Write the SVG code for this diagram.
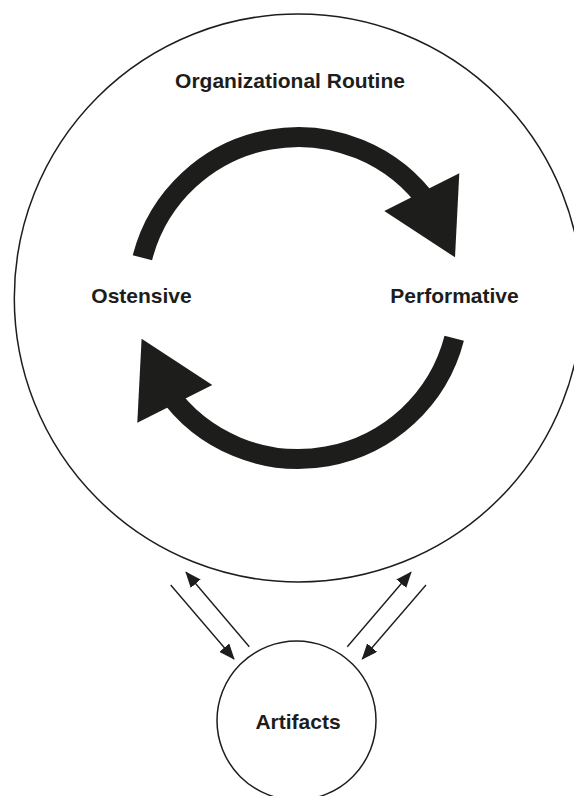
<svg xmlns="http://www.w3.org/2000/svg" xmlns:xlink="http://www.w3.org/1999/xlink" width="574" height="796" viewBox="0 0 574 796">
  <style>
    .ring { fill: none; stroke: #1d1d1b; stroke-width: 1.5; }
    .label { font-family: "Liberation Sans", Arial, Helvetica, sans-serif; font-weight: bold; font-size: 21px; fill: #1d1d1b; text-anchor: middle; }
    .link { fill: none; stroke: #1d1d1b; stroke-width: 1.4; marker-end: url(#head); }
    .band { fill: none; stroke: #1d1d1b; stroke-width: 20; stroke-linecap: butt; }
    .tip { fill: #1d1d1b; }
  </style>
  <defs>
    <marker id="head" markerUnits="userSpaceOnUse" markerWidth="16" markerHeight="13" viewBox="0 0 16 13" refX="15" refY="6.5" orient="auto">
      <path d="M0,0 L16,6.5 L0,13 z" fill="#1d1d1b"/>
    </marker>
    <!-- one half of the cycle: thick arc with a large triangular head -->
    <g id="half-cycle">
      <path class="band" d="M142.4,257.7 A161,161 0 0 1 430.2,205.7"/>
      <polygon class="tip" points="459.3,173.3 455,257.3 384.3,211"/>
    </g>
  </defs>

  <rect width="574" height="796" fill="#ffffff"/>

  <g id="routine">
    <circle class="ring" cx="298.3" cy="298" r="284"/>
    <text class="label" x="290" y="88">Organizational Routine</text>
  </g>

  <g id="ostensive">
    <text class="label" x="141.5" y="303">Ostensive</text>
  </g>

  <g id="performative">
    <text class="label" x="454.5" y="303">Performative</text>
  </g>

  <g id="artifacts">
    <circle class="ring" cx="296.5" cy="720.5" r="79.5"/>
    <text class="label" x="298" y="729">Artifacts</text>
  </g>

  <g id="connectors">
    <use xlink:href="#half-cycle"/>
    <use xlink:href="#half-cycle" transform="rotate(180 298.3 298)"/>
    <line class="link" x1="170.7" y1="585" x2="234" y2="659"/>
    <line class="link" x1="249.3" y1="646.7" x2="186" y2="572.3"/>
    <line class="link" x1="347.3" y1="646.7" x2="411" y2="572.3"/>
    <line class="link" x1="426" y1="585" x2="362.3" y2="659"/>
  </g>
</svg>
